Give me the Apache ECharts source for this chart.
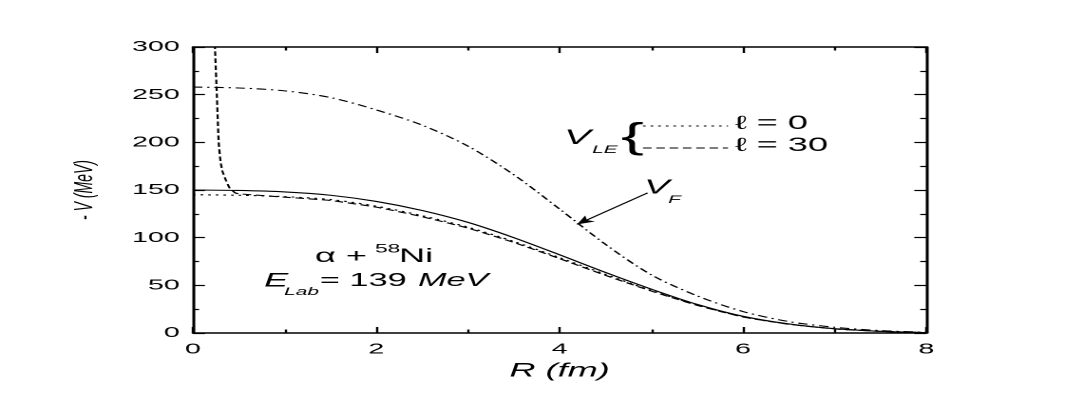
<!DOCTYPE html>
<html>
<head>
<meta charset="utf-8">
<script src="https://cdn.jsdelivr.net/npm/echarts@6/dist/echarts.min.js"></script>
<style>
  html, body { margin: 0; padding: 0; background: #fff; overflow: hidden; }
  #chart { height: 399px; transform-origin: 0 0; }
</style>
</head>
<body>
<div id="chart"></div>
<script>
// the original figure is stretched sideways, so draw narrow and widen with CSS
const S = 1.9;
const FONT = '"Liberation Sans", Arial, sans-serif';

// radius grid (fm) and potentials -V (MeV)
const R = [0, 0.5, 1, 1.5, 2, 2.5, 3, 3.5, 4, 4.5, 5, 5.5, 6, 6.5, 7, 7.5, 8];
const vF = [258, 257, 254, 247, 234, 218, 196, 166, 130, 93, 61, 39, 22.5, 12, 6, 2.5, 0.8];
const vSolid = [150, 149.5, 148, 144.5, 138, 128.5, 116, 100, 82, 63.5, 46, 30, 17.5, 9.5, 4.5, 1.8, 0.4];
const vL0 = [145, 144.5, 143, 140, 133, 123, 111, 96, 79, 61.5, 44.5, 29.5, 17, 9.3, 4.4, 1.8, 0.4];
const rL30 = [0.235, 0.26, 0.28, 0.3, 0.32, 0.36, 0.4, 0.46, 0.5, 1, 1.5, 2, 2.5, 3, 3.5, 4, 4.5, 5, 5.5, 6, 6.5, 7, 7.5, 8];
const vL30 = [310, 250, 200, 180, 170, 160, 152, 147, 146, 142.5, 139, 132, 122, 110, 95, 78, 60.5, 44, 29, 16.8, 9.2, 4.3, 1.7, 0.4];

// arrow pointing at V_F
const arrowFrom = [4.96, 147];
const arrowTo = [4.19, 114];

const xTicks = { min: 0, max: 8, interval: 2 };
const yTicks = { min: 0, max: 300, interval: 50 };

const zip = (xs, ys) => xs.map((x, i) => [x, ys[i]]);

const dom = document.getElementById('chart');
dom.style.width = (1078 / S) + 'px';
dom.style.transform = 'scaleX(' + S + ')';

const chart = echarts.init(dom, null, { renderer: 'canvas', devicePixelRatio: 2 });

const axisLine = { show: true, onZero: false, lineStyle: { color: '#000', width: 1.5 } };

function xAxisOf(pos, labels) {
  return {
    type: 'value', position: pos, min: xTicks.min, max: xTicks.max, interval: xTicks.interval,
    axisLine: axisLine,
    axisTick: { show: true, inside: true, length: 6, lineStyle: { color: '#000', width: 1.2 } },
    minorTick: { show: true, splitNumber: 2, length: 3.5, lineStyle: { color: '#000', width: 1.2 } },
    splitLine: { show: false },
    axisLabel: { show: labels, color: '#000', fontSize: 15, fontFamily: FONT, margin: 9 },
  };
}

function yAxisOf(pos, labels) {
  return {
    type: 'value', position: pos, min: yTicks.min, max: yTicks.max, interval: yTicks.interval,
    axisLine: axisLine,
    axisTick: { show: true, inside: true, length: 6.3, lineStyle: { color: '#000', width: 1.2 } },
    minorTick: { show: true, splitNumber: 2, length: 3.2, lineStyle: { color: '#000', width: 1.2 } },
    splitLine: { show: false },
    axisLabel: { show: labels, color: '#000', fontSize: 15, fontFamily: FONT, margin: 7 },
  };
}

const xMain = xAxisOf('bottom', true);
xMain.name = 'R (fm)';
xMain.nameLocation = 'middle';
xMain.nameGap = 26;
xMain.nameTextStyle = { color: '#000', fontSize: 19, fontStyle: 'italic', fontFamily: FONT };

const yMain = yAxisOf('left', true);
yMain.name = '- V (MeV)';
yMain.nameLocation = 'middle';
yMain.nameGap = 50;
yMain.nameTextStyle = { color: '#000', fontSize: 14, fontStyle: 'italic', fontFamily: FONT };

function line(name, data, dash, smooth) {
  return {
    name: name, type: 'line', data: data, symbol: 'none', smooth: smooth, clip: true,
    lineStyle: { color: '#000', width: 1.1, type: dash },
  };
}

// text placed in picture pixels (x given in the stretched picture)
function txt(x, y, text, size, italic) {
  return {
    type: 'text', x: x / S, y: y, silent: true,
    style: {
      text: text, fontSize: size, fontFamily: FONT, fill: '#000',
      fontStyle: italic ? 'italic' : 'normal',
      align: 'left', verticalAlign: 'middle',
    },
  };
}

function key(x1, x2, y, dash) {
  return {
    type: 'line', silent: true,
    shape: { x1: x1 / S, y1: y, x2: x2 / S, y2: y },
    style: { stroke: '#000', lineWidth: 1, lineDash: dash },
  };
}

const seriesF = line('V_F', zip(R, vF), [5, 2.5, 1.2, 2.5], 0.3);
seriesF.markLine = {
  silent: true, symbol: ['none', 'arrow'], symbolSize: [6, 9], animation: false,
  label: { show: false },
  lineStyle: { color: '#000', width: 1, type: 'solid' },
  data: [[{ coord: arrowFrom }, { coord: arrowTo }]],
};

const option = {
  animation: false,
  backgroundColor: '#fff',
  grid: { left: 193 / S, right: 1078 / S - 927 / S, top: 47, bottom: 66 },
  xAxis: [xMain, xAxisOf('top', false)],
  yAxis: [yMain, yAxisOf('right', false)],
  series: [
    seriesF,
    line('solid', zip(R, vSolid), 'solid', 0.3),
    line('l=0', zip(R, vL0), [1.4, 2.6], 0.3),
    line('l=30', zip(rL30, vL30), [4.5, 2.5], 0.15),
  ],
  graphic: [
    // V_LE { legend
    txt(564, 138, 'V', 21, true),
    txt(592, 150, 'LE', 11, true),
    txt(621, 138, '{', 36, false),
    key(643, 728, 126, [1.4, 2.6]),
    key(643, 728, 148, [4.5, 2.5]),
    txt(735, 124, 'ℓ = 0', 19, false),
    txt(735, 146, 'ℓ = 30', 19, false),
    // V_F label
    txt(644, 188, 'V', 20, true),
    txt(668, 200, 'F', 11, true),
    // reaction
    txt(315, 257, 'α + ', 19, false),
    txt(375, 249, '58', 12, false),
    txt(399, 257, 'Ni', 19, false),
    txt(264, 281, 'E', 19, true),
    txt(284, 292, 'Lab', 11, true),
    txt(320, 281, '= 139', 18, false),
    txt(418, 281, 'MeV', 18, true),
  ],
};

chart.setOption(option);
</script>
</body>
</html>
